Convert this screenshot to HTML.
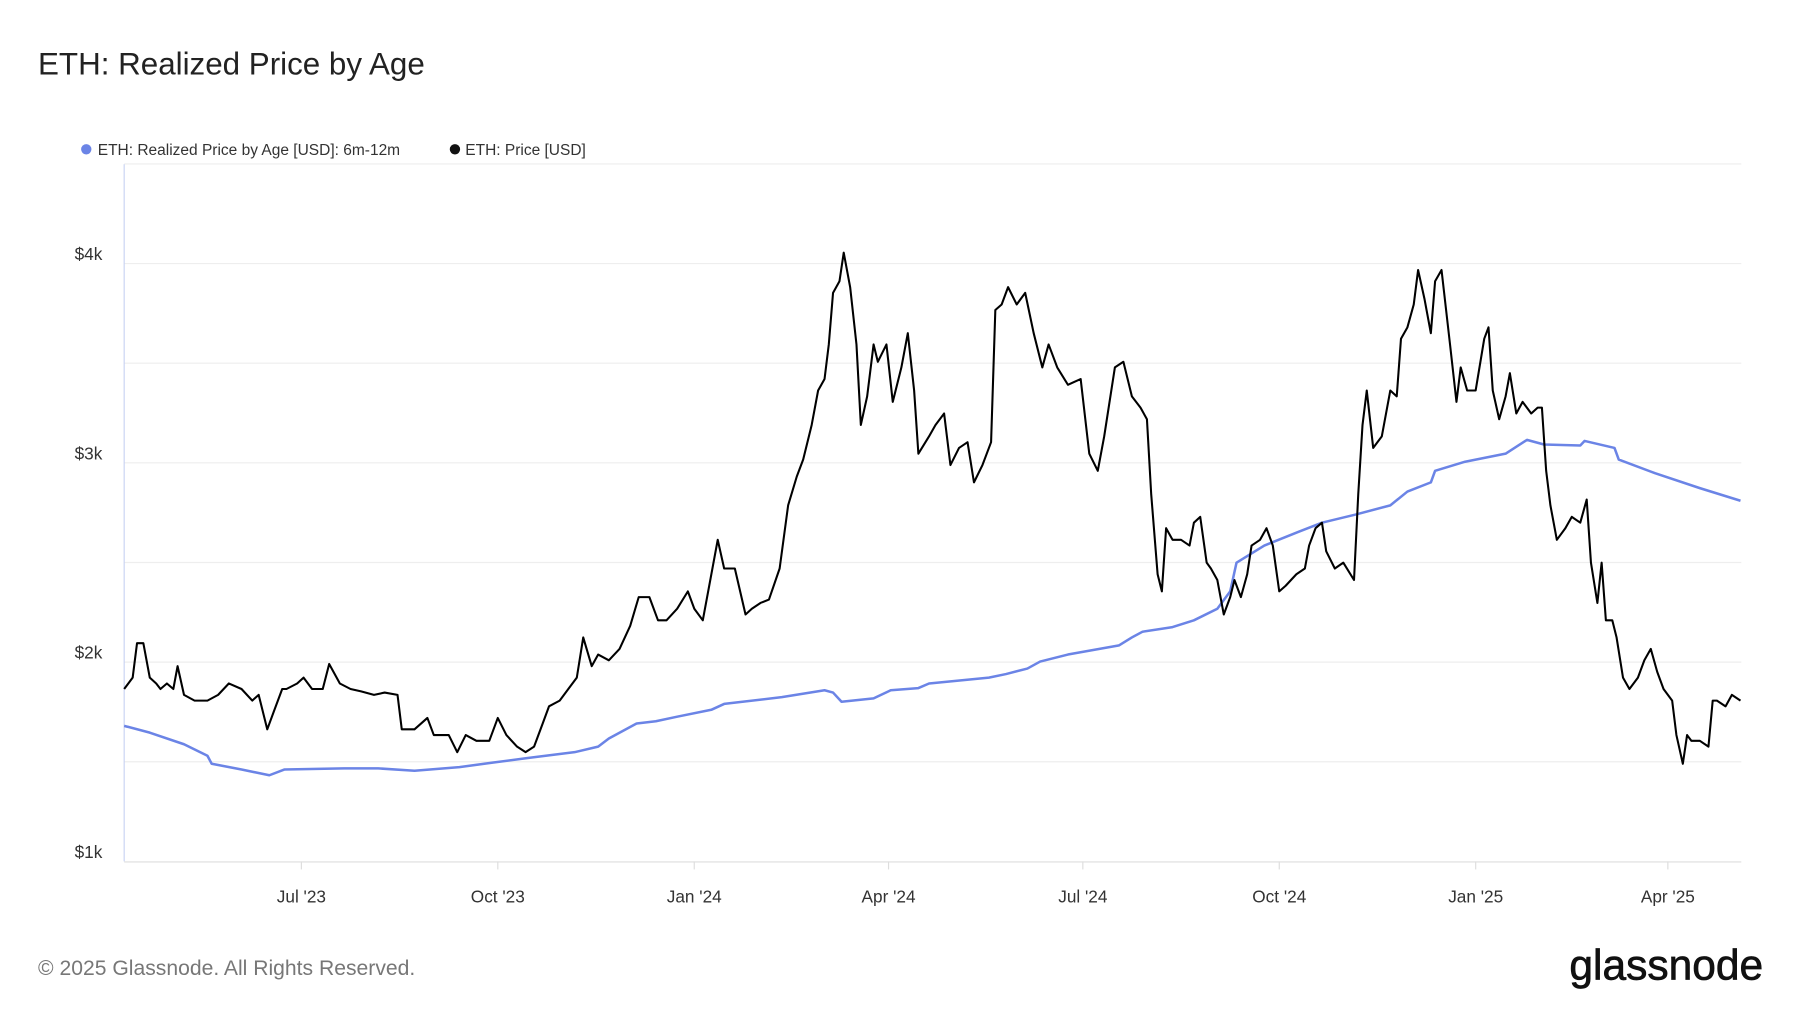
<!DOCTYPE html>
<html><head><meta charset="utf-8"><style>
html,body{margin:0;padding:0;background:#fff;}
svg{display:block;font-family:"Liberation Sans",sans-serif;}
</style></head><body>
<svg id="chart" width="1800" height="1013" viewBox="0 0 1567 882" xmlns="http://www.w3.org/2000/svg">
<text x="33" y="65" font-size="27.3" fill="#222">ETH: Realized Price by Age</text>
<g font-size="13.5" fill="#333">
<g><circle cx="75" cy="130" r="4.5" fill="#6b84e6"/><text x="85" y="135">ETH: Realized Price by Age [USD]: 6m-12m</text></g>
<g><circle cx="396" cy="130" r="4.5" fill="#111"/><text x="405" y="135">ETH: Price [USD]</text></g>
</g>
<g id="grid"></g>
<g id="yaxis" font-size="15" fill="#333" text-anchor="end"></g>
<g id="xaxis" font-size="15" fill="#333" text-anchor="middle"></g>
<line x1="108" y1="143" x2="108" y2="750" stroke="#c9d3f2" stroke-width="1"/>
<line x1="108" y1="750.5" x2="1516" y2="750.5" stroke="#ddd" stroke-width="1"/>
<g id="series"></g>
<text x="33" y="849" font-size="18.4" fill="#777">© 2025 Glassnode. All Rights Reserved.</text>
<text x="1535" y="853" font-size="37" fill="#111" text-anchor="end" stroke="#111" stroke-width="0.6">glassnode</text>
</svg>
<script>
const priceDays=[0,4,6,9,12,15,17,20,23,25,28,33,39,44,49,55,60,63,67,70,74,76,81,84,88,93,96,101,106,111,117,122,128,130,136,142,145,152,156,160,165,171,175,179,184,188,192,196,199,204,208,212,215,219,222,227,232,237,241,246,250,254,259,264,267,271,274,278,281,286,291,294,298,302,307,311,315,318,322,325,328,330,332,335,337,340,343,345,348,351,353,357,360,364,367,370,372,377,380,384,387,391,395,398,402,406,408,411,414,418,422,426,430,433,437,442,448,452,456,459,464,468,472,476,479,481,484,486,488,491,495,499,501,504,507,509,512,515,518,520,523,526,528,532,535,538,541,544,549,553,555,558,561,563,567,571,576,578,580,582,585,589,593,596,598,601,604,606,609,612,614,617,621,624,626,629,633,637,639,641,644,647,649,652,655,659,662,664,666,668,671,675,678,682,685,687,690,692,694,697,699,702,705,709,712,715,718,721,725,727,730,732,734,738,742,744,746,750,753,757];
const priceValues=[1865,1922,2095,2095,1922,1893,1865,1893,1865,1980,1836,1807,1807,1836,1893,1865,1807,1836,1663,1749,1865,1865,1893,1922,1865,1865,1991,1893,1865,1853,1836,1847,1836,1663,1663,1720,1634,1634,1548,1634,1605,1605,1720,1634,1576,1548,1576,1692,1778,1807,1865,1922,2124,1980,2038,2009,2066,2182,2326,2326,2210,2210,2268,2355,2268,2210,2383,2614,2470,2470,2239,2268,2297,2314,2470,2787,2931,3017,3190,3363,3421,3594,3853,3911,4055,3882,3594,3190,3334,3594,3507,3594,3306,3479,3651,3363,3046,3133,3190,3248,2989,3075,3104,2902,2989,3104,3767,3795,3882,3795,3853,3651,3479,3594,3479,3392,3421,3046,2960,3133,3479,3507,3334,3277,3219,2844,2441,2355,2672,2614,2614,2585,2700,2729,2499,2470,2412,2239,2326,2412,2326,2441,2585,2614,2672,2585,2355,2383,2441,2470,2585,2672,2700,2556,2470,2499,2412,2844,3190,3363,3075,3133,3363,3334,3623,3680,3795,3968,3824,3651,3911,3968,3594,3306,3479,3363,3363,3623,3680,3363,3219,3334,3450,3248,3306,3248,3277,3277,2960,2787,2614,2672,2729,2700,2816,2499,2297,2499,2210,2210,2124,1922,1865,1922,2009,2066,1951,1865,1807,1634,1490,1634,1605,1605,1576,1807,1807,1778,1836,1807];
const realizedDays=[0,12,28,39,41,55,68,75,103,119,136,157,173,189,211,222,227,240,249,259,275,281,308,328,332,336,351,359,372,377,405,413,423,429,442,466,472,477,491,501,512,518,521,534,550,561,577,593,601,612,614,628,647,657,665,682,684,698,700,717,738,757];
const realizedValues=[1680,1646,1588,1530,1490,1461,1432,1461,1467,1467,1455,1473,1496,1519,1548,1576,1617,1692,1703,1726,1761,1790,1824,1859,1847,1801,1818,1859,1870,1893,1922,1940,1968,2003,2038,2084,2124,2153,2176,2210,2268,2355,2499,2585,2654,2700,2741,2787,2856,2902,2960,3006,3046,3115,3092,3087,3110,3075,3017,2948,2873,2810];
const yTicks=[1000,2000,3000,4000];
const yTickLabels=["$1k","$2k","$3k","$4k"];
const gridValues=[1500,2000,2500,3000,3500,4000,4500];
const xTickDays=[83,175,267,358,449,541,633,723];
const xTickLabels=["Jul '23","Oct '23","Jan '24","Apr '24","Jul '24","Oct '24","Jan '25","Apr '25"];

const NS="http://www.w3.org/2000/svg";
const x=d=>108+d*1.859;
const y=v=>750-(v-1000)*0.1735;
const grid=document.getElementById('grid');
gridValues.forEach(v=>{const l=document.createElementNS(NS,'line');


l.setAttribute('x1',108);l.setAttribute('x2',1516);l.setAttribute('y1',y(v));l.setAttribute('y2',y(v));l.setAttribute('stroke','#eeeeee');grid.appendChild(l);});
const ya=document.getElementById('yaxis');
yTicks.forEach((v,i)=>{const t=document.createElementNS(NS,'text');


t.setAttribute('x',89);t.setAttribute('y',y(v)-3);t.textContent=yTickLabels[i];ya.appendChild(t);});
const xa=document.getElementById('xaxis');
xTickDays.forEach((d,i)=>{const l=document.createElementNS(NS,'line');


l.setAttribute('x1',x(d));l.setAttribute('x2',x(d));l.setAttribute('y1',750);l.setAttribute('y2',757);l.setAttribute('stroke','#ddd');xa.appendChild(l);
const t=document.createElementNS(NS,'text');


t.setAttribute('x',x(d));t.setAttribute('y',786);t.textContent=xTickLabels[i];xa.appendChild(t);});
const s=document.getElementById('series');
function line(days,vals,color,w,name){const p=document.createElementNS(NS,'path');


p.setAttribute('d',days.map((d,i)=>(i?'L':'M')+x(d).toFixed(1)+' '+y(vals[i]).toFixed(1)).join(''));
p.setAttribute('fill','none');p.setAttribute('stroke',color);p.setAttribute('stroke-width',w);p.setAttribute('stroke-linejoin','round');s.appendChild(p);}
line(realizedDays,realizedValues,'#6b84e6',2.2,'realized-price-line');
line(priceDays,priceValues,'#000',1.8,'price-line');
</script>
</body></html>
